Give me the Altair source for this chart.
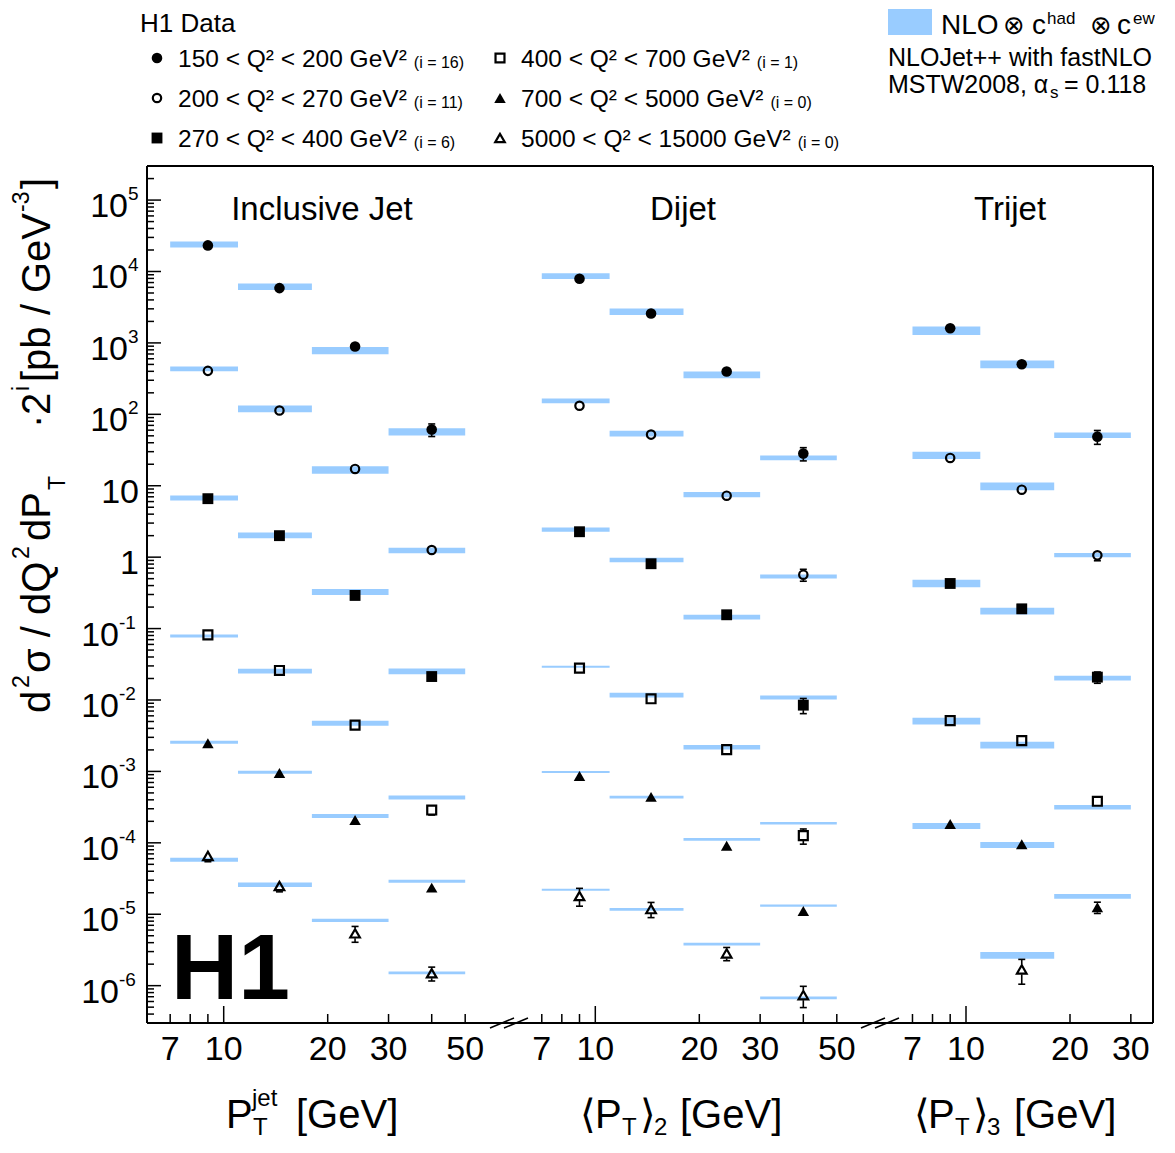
import math
import altair as alt
import pandas as pd

# ---------------- data ----------------
PT_CENTER = [9.0, 14.5, 24.0, 40.0]
BIN_EDGES = [7, 11, 18, 30, 50]

Q2_LABELS = ["150 < Q² < 200 GeV²", "200 < Q² < 270 GeV²", "270 < Q² < 400 GeV²",
             "400 < Q² < 700 GeV²", "700 < Q² < 5000 GeV²", "5000 < Q² < 15000 GeV²"]
SCALE_LABELS = ["(i = 16)", "(i = 11)", "(i = 6)", "(i = 1)", "(i = 0)", "(i = 0)"]

# Inclusive jet: data, data error [%], NLO, NLO band half-width [%]
INCL_DATA = [[2.32e4, 5850, 891, 61.1],
             [406, 113, 17.2, 1.26],
             [6.59, 2.00, 0.291, 0.0213],
             [0.0818, 0.0259, 0.00444, 2.88e-4],
             [2.48e-3, 9.53e-4, 2.09e-4, 2.36e-5],
             [6.55e-5, 2.48e-5, 5.40e-6, 1.49e-6]]
INCL_ERR = [[4, 5, 6, 20], [4, 5, 6, 12], [4, 5, 6, 14],
            [5, 6, 8, 15], [6, 7, 9, 12], [17, 17, 25, 22]]
INCL_NLO = [[2.39e4, 6110, 782, 56.8],
            [434, 119, 16.6, 1.24],
            [6.75, 2.02, 0.325, 0.0251],
            [0.0785, 0.0254, 0.00473, 4.30e-4],
            [2.56e-3, 9.75e-4, 2.38e-4, 2.89e-5],
            [5.81e-5, 2.59e-5, 8.22e-6, 1.51e-6]]
INCL_UNC = [[10, 11.4, 12.5, 12], [7.9, 11.4, 12.5, 9.6], [8.4, 10, 10, 9.6],
            [5, 7.9, 8.4, 6.7], [5, 5, 6.7, 5], [6.7, 7.2, 5.5, 4.5]]

DIJET_DATA = [[7910, 2580, 397, 28.2],
              [132, 52.0, 7.26, 0.568],
              [2.27, 0.809, 0.156, 8.47e-3],
              [0.0279, 0.0104, 2.02e-3, 1.26e-4],
              [8.65e-4, 4.40e-4, 9.12e-5, 1.11e-5],
              [1.80e-5, 1.18e-5, 2.83e-6, 7.36e-7]]
DIJET_ERR = [[4, 5, 7, 21], [4, 5, 7, 19], [4, 5, 7, 24],
             [5, 6, 8, 24], [6, 7, 9, 12], [28, 24, 21, 33]]
DIJET_NLO = [[8610, 2730, 357, 24.5],
             [154, 53.7, 7.50, 0.537],
             [2.43, 0.912, 0.145, 0.0108],
             [0.0292, 0.0117, 2.18e-3, 1.88e-4],
             [9.84e-4, 4.35e-4, 1.12e-4, 1.32e-5],
             [2.20e-5, 1.17e-5, 3.82e-6, 6.76e-7]]
DIJET_UNC = [[9.6, 11.4, 11.4, 7.9], [7.9, 10, 8.9, 6.7], [6.7, 7.9, 7.9, 6.7],
             [3.3, 7.9, 7.9, 4.5], [3.3, 4.5, 4.5, 3.3], [3.3, 4.5, 4.5, 4.5]]

TRIJET_DATA = [[1607, 502, 48.7],
               [24.5, 8.81, 1.06],
               [0.428, 0.189, 0.0209],
               [5.15e-3, 2.70e-3, 3.82e-4],
               [1.84e-4, 9.53e-5, 1.25e-5],
               [None, 1.69e-6, None]]
TRIJET_ERR = [[5, 6, 22], [5, 6, 16], [5, 6, 18],
              [6, 8, 12], [7, 8, 18], [None, 38, None]]
TRIJET_NLO = [[1479, 502, 50.9],
              [26.7, 9.82, 1.07],
              [0.428, 0.176, 0.0202],
              [5.05e-3, 2.33e-3, 3.15e-4],
              [1.72e-4, 9.33e-5, 1.78e-5],
              [None, 2.66e-6, None]]
TRIJET_UNC = [[15, 13.2, 9.6], [12.5, 13.2, 7.2], [13.2, 11.4, 7.9],
              [11.4, 11.4, 7.9], [10, 10, 7.9], [None, 11.4, None]]

X_TICK_LABELS = [[7, 10, 20, 30, 50], [7, 10, 20, 30, 50], [7, 10, 20, 30]]
X_MINOR = [[7, 8, 9, 20, 30, 40, 50], [7, 8, 9, 20, 30, 40, 50], [7, 8, 9, 20, 30]]
X_MAJOR = [[10], [10], [10]]

# ---------------- layout ----------------
H = 857
X0, Y0 = 147, 166                 # page position of the plot frame
EDGES = [147, 505, 876, 1153]     # page x of panel boundaries
TENS = [223.7, 595.3, 966.0]      # page x of "10" in each panel
DEC_X = 345.5
WIDTHS = [EDGES[i + 1] - EDGES[i] for i in range(3)]
XDOM = [[10 ** (1 + (EDGES[i] - TENS[i]) / DEC_X), 10 ** (1 + (EDGES[i + 1] - TENS[i]) / DEC_X)]
        for i in range(3)]
YDOM = [3e-7, 3e5]
DEC_Y = H / math.log10(YDOM[1] / YDOM[0])
GAP = 10 ** (5.0 / DEC_Y)
TOTAL_W = EDGES[3] - EDGES[0]

BAND = "#99ccff"
FONT = "Liberation Sans, Arial, Helvetica, sans-serif"
SYMFONT = "Liberation Sans, DejaVu Sans, sans-serif"
STYLE = [("circle", True, 112), ("circle", False, 70), ("square", True, 118),
         ("square", False, 80), ("triangle-up", True, 132), ("triangle-up", False, 92)]

AW = {c: 556 for c in "0123456789"}
AW.update({' ': 278, '<': 584, '=': 584, '(': 333, ')': 333, '²': 333, 'Q': 778, 'G': 778,
           'e': 556, 'V': 667, 'i': 222})


def tw(s, fs):
    return sum(AW.get(c, 556) for c in s) * fs / 1000.0


# ---------------- tables ----------------
PANELS = [(INCL_DATA, INCL_ERR, INCL_NLO, INCL_UNC),
          (DIJET_DATA, DIJET_ERR, DIJET_NLO, DIJET_UNC),
          (TRIJET_DATA, TRIJET_ERR, TRIJET_NLO, TRIJET_UNC)]
rows, segs, caps = [], [], []
for p, (dat, err, nlo, unc) in enumerate(PANELS):
    for s in range(6):
        for b in range(len(dat[s])):
            v = dat[s][b]
            if v is None:
                continue
            lo = v * (1 - err[s][b] / 100.0)
            hi = v * (1 + err[s][b] / 100.0)
            u = 1 + unc[s][b] / 100.0
            rows.append(dict(panel=p, series=s, x=PT_CENTER[b], xlo=BIN_EDGES[b], xhi=BIN_EDGES[b + 1],
                             val=v, nlo=nlo[s][b], blo=nlo[s][b] / u, bhi=nlo[s][b] * u))
            if hi > v * GAP:
                segs.append(dict(panel=p, x=PT_CENTER[b], y1=v * GAP, y2=hi))
                caps.append(dict(panel=p, x=PT_CENTER[b], y=hi))
            if lo < v / GAP:
                segs.append(dict(panel=p, x=PT_CENTER[b], y1=lo, y2=v / GAP))
                caps.append(dict(panel=p, x=PT_CENTER[b], y=lo))
df = pd.DataFrame(rows)
seg_df = pd.DataFrame(segs)
cap_df = pd.DataFrame(caps)

ONE = pd.DataFrame({"k": [0]})


def T(xp, yp, s, size, align="left", angle=0, weight="normal", font=FONT):
    """text at page coordinates, drawn in panel-1 coordinates"""
    return alt.Chart(ONE).mark_text(text=s, fontSize=size, align=align, baseline="alphabetic",
                                    angle=angle, fontWeight=weight, font=font, color="black").encode(
        x=alt.value(xp - X0), y=alt.value(yp - Y0))


def R(x1, y1, x2, y2, w=2.0, color="black", opacity=1.0):
    return alt.Chart(ONE).mark_rule(color=color, strokeWidth=w, opacity=opacity).encode(
        x=alt.value(x1), y=alt.value(y1), x2=alt.value(x2), y2=alt.value(y2))


def make_panel(p):
    xs = alt.Scale(type="log", domain=XDOM[p], nice=False)
    ys = alt.Scale(type="log", domain=YDOM, nice=False)

    def X(f):
        return alt.X(f, type="quantitative", scale=xs, axis=None)

    def Y(f):
        return alt.Y(f, type="quantitative", scale=ys, axis=None)

    d = df[df.panel == p]
    layers = [alt.Chart(d).mark_rect(color=BAND).encode(x=X("xlo"), x2="xhi", y=Y("blo"), y2="bhi")]
    sd = seg_df[seg_df.panel == p]
    cd = cap_df[cap_df.panel == p]
    if len(sd):
        layers.append(alt.Chart(sd).mark_rule(color="black", strokeWidth=1.6).encode(
            x=X("x"), y=Y("y1"), y2="y2"))
        layers.append(alt.Chart(cd).mark_tick(orient="horizontal", color="black", thickness=1.6,
                                              size=7, opacity=1).encode(x=X("x"), y=Y("y")))
    for s, (shape, filled, size) in enumerate(STYLE):
        ds = d[d.series == s]
        if len(ds) == 0:
            continue
        layers.append(alt.Chart(ds).mark_point(shape=shape, filled=filled, size=size, color="black",
                                               strokeWidth=0 if filled else 2.2, opacity=1).encode(
            x=X("x"), y=Y("val")))
    # x ticks (inside)
    layers.append(alt.Chart(pd.DataFrame({"v": X_MINOR[p]})).mark_rule(color="black", strokeWidth=1.5).encode(
        x=X("v"), y=alt.value(H), y2=alt.value(H - 9)))
    layers.append(alt.Chart(pd.DataFrame({"v": X_MAJOR[p]})).mark_rule(color="black", strokeWidth=1.5).encode(
        x=X("v"), y=alt.value(H), y2=alt.value(H - 17)))
    layers.append(alt.Chart(pd.DataFrame({"v": X_TICK_LABELS[p], "t": [str(v) for v in X_TICK_LABELS[p]]}))
                  .mark_text(fontSize=34, font=FONT, align="center", baseline="alphabetic", color="black")
                  .encode(x=X("v"), y=alt.value(H + 37), text="t:N"))

    if p == 0:
        # y ticks
        ymaj = [10.0 ** e for e in range(-6, 6)]
        ymin = [k * 10.0 ** e for e in range(-7, 6) for k in range(2, 10)
                if YDOM[0] <= k * 10.0 ** e <= YDOM[1]]
        layers.append(alt.Chart(pd.DataFrame({"v": ymin})).mark_rule(color="black", strokeWidth=1.5).encode(
            y=Y("v"), x=alt.value(0), x2=alt.value(7)))
        layers.append(alt.Chart(pd.DataFrame({"v": ymaj})).mark_rule(color="black", strokeWidth=1.5).encode(
            y=Y("v"), x=alt.value(0), x2=alt.value(14)))
        pos = pd.DataFrame({"v": [10.0 ** e for e in range(2, 6)], "b": "10",
                            "e": [str(e) for e in range(2, 6)]})
        neg = pd.DataFrame({"v": [10.0 ** e for e in range(-6, 0)], "b": "10",
                            "e": [str(e) for e in range(-6, 0)]})
        plain = pd.DataFrame({"v": [1.0, 10.0], "b": ["1", "10"]})
        for tab, xb in ((pos, -19), (neg, -28)):
            layers.append(alt.Chart(tab).mark_text(fontSize=34, font=FONT, align="right", baseline="alphabetic",
                                                   dy=17, color="black").encode(
                y=Y("v"), x=alt.value(xb), text="b:N"))
            layers.append(alt.Chart(tab).mark_text(fontSize=19, font=FONT, align="left", baseline="alphabetic",
                                                   dy=0, color="black").encode(
                y=Y("v"), x=alt.value(xb), text="e:N"))
        layers.append(alt.Chart(plain).mark_text(fontSize=34, font=FONT, align="right", baseline="alphabetic",
                                                 dy=17, color="black").encode(
            y=Y("v"), x=alt.value(-8), text="b:N"))

        # frame
        layers += [R(0, 0, TOTAL_W, 0), R(0, H, TOTAL_W, H), R(0, 0, 0, H), R(TOTAL_W, 0, TOTAL_W, H)]
        # axis break marks
        for b in (WIDTHS[0], WIDTHS[0] + WIDTHS[1]):
            layers += [R(b - 15, H + 5, b + 9, H - 5, 1.5), R(b - 1, H + 5, b + 23, H - 5, 1.5)]
        # invisible anchor fixing the page position of the frame
        layers.append(R(-138.5, -157.5, -138.5, -150, 1.0, "white", 0.0))

        # panel titles
        layers += [T(322, 220, "Inclusive Jet", 33, "center"), T(683, 220, "Dijet", 33, "center"),
                   T(1010, 220, "Trijet", 33, "center")]
        # H1 logo
        layers.append(T(171, 999, "H1", 93, weight="bold"))

        # legend: data
        layers.append(T(140, 32, "H1 Data", 26))
        mx = [157, 157, 157, 500, 500, 500]
        my = [58, 98, 138, 58, 98, 138]
        for s, (shape, filled, size) in enumerate(STYLE):
            layers.append(alt.Chart(ONE).mark_point(shape=shape, filled=filled, size=size, color="black",
                                                    strokeWidth=0 if filled else 2.2, opacity=1).encode(
                x=alt.value(mx[s] - X0), y=alt.value(my[s] - Y0)))
            tx = mx[s] + 21
            layers.append(T(tx, my[s] + 9, Q2_LABELS[s], 24.5))
            layers.append(T(tx + tw(Q2_LABELS[s], 24.5) + 7, my[s] + 10, SCALE_LABELS[s], 16))

        # legend: theory
        layers.append(alt.Chart(ONE).mark_rect(color=BAND).encode(
            x=alt.value(888 - X0), x2=alt.value(932 - X0), y=alt.value(9 - Y0), y2=alt.value(35 - Y0)))
        layers += [T(941, 34, "NLO", 28), T(1003, 34, "⊗", 26, font=SYMFONT), T(1032, 34, "c", 28),
                   T(1047, 24, "had", 17), T(1090, 34, "⊗", 26, font=SYMFONT), T(1117, 34, "c", 28),
                   T(1133, 24, "ew", 17)]
        layers += [T(888, 66, "NLOJet++ with fastNLO", 25), T(888, 93, "MSTW2008, α", 25),
                   T(1050, 98, "s", 17), T(1064, 93, "= 0.118", 25)]

        # y title (rotated pieces): (text, page y start, kind)
        ypieces = [("d", 713, "b"), ("2", 688, "p"), ("σ / dQ", 673, "b"), ("2", 559, "p"),
                   ("dP", 541, "b"), ("T", 490, "s"), ("·", 428, "b"), ("2", 415, "b"), ("i", 391, "p"),
                   ("[pb", 382, "b"), ("/", 315, "b"), ("GeV", 293, "b"), ("-3", 212, "p"), ("]", 189, "b")]
        kind_x = {"b": (50, 40), "p": (29, 23), "s": (65, 23)}
        for txt, ystart, kind in ypieces:
            xb, fs = kind_x[kind]
            layers.append(T(xb, ystart, txt, fs, angle=270))

        # x titles
        layers += [T(226, 1128, "P", 40), T(253, 1135, "T", 24), T(252, 1106, "jet", 24),
                   T(296, 1128, "[GeV]", 40)]
        layers += [T(580, 1128, "⟨", 40, font=SYMFONT), T(595, 1128, "P", 40), T(622, 1135, "T", 24),
                   T(640, 1128, "⟩", 40, font=SYMFONT), T(654, 1135, "2", 24), T(680, 1128, "[GeV]", 40)]
        layers += [T(914, 1128, "⟨", 40, font=SYMFONT), T(928, 1128, "P", 40), T(955, 1135, "T", 24),
                   T(973, 1128, "⟩", 40, font=SYMFONT), T(987, 1135, "3", 24), T(1014, 1128, "[GeV]", 40)]

    return alt.layer(*layers).properties(width=WIDTHS[p], height=H)


chart = alt.hconcat(make_panel(0), make_panel(1), make_panel(2), spacing=0, bounds="flush").properties(
    padding={"left": 0, "top": 0, "right": 0, "bottom": 0}
).configure_view(strokeWidth=0, strokeOpacity=0)

chart.save("out.html", embed_options={"renderer": "svg", "actions": False})
